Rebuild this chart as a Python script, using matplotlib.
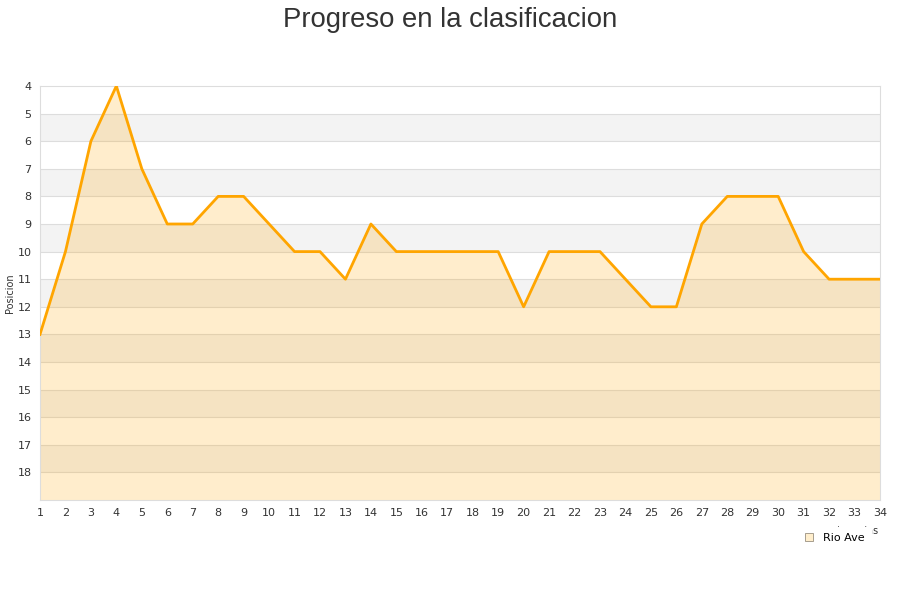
import matplotlib
matplotlib.use("Agg")
import matplotlib.pyplot as plt
from matplotlib.lines import Line2D

jornadas = list(range(1, 35))
posicion = [13, 10, 6, 4, 7, 9, 9, 8, 8, 9, 10, 10, 11, 9, 10, 10, 10, 10, 10, 12,
            10, 10, 10, 11, 12, 12, 9, 8, 8, 8, 10, 11, 11, 11]
equipo = "Rio Ave"

fig = plt.figure(figsize=(9, 6), dpi=100)
ax = fig.add_axes([40 / 900, 1 - 500 / 600, 840 / 900, 414 / 600])

# franjas alternas
for y in range(5, 19, 2):
    ax.axhspan(y, y + 1, color="#f3f3f3", zorder=0, lw=0)
for y in range(5, 19):
    ax.axhline(y, color="#dddddd", lw=0.8, zorder=1)

ax.fill_between(jornadas, posicion, 19, color="#ffa500", alpha=0.2, lw=0, zorder=2)
ax.plot(jornadas, posicion, color="#ffa500", lw=2, zorder=3)

ax.set_xlim(1, 34)
ax.set_ylim(19, 4)
ax.set_xticks(jornadas)
ax.set_yticks(range(4, 19))
ax.tick_params(axis="both", length=0, labelsize=8, colors="#333333", pad=6)
ax.tick_params(axis="y", pad=6)
for s in ax.spines.values():
    s.set_color("#dddddd")
    s.set_linewidth(0.8)

ax.set_ylabel("Posicion", fontsize=7, color="#333333")
ax.yaxis.set_label_coords(-0.0298, 0.5)
# la leyenda tapa casi toda la etiqueta, como en el original
ax.set_xlabel("Jornadas", fontsize=7, color="#333333", ha="right", va="center")
ax.xaxis.set_label_coords(0.9988, -0.075)

fig.text(0.5, 0.988, "Progreso en la clasificacion", ha="center", va="top",
         fontsize=19.8, family="Liberation Sans", color="#333333")

handle = Line2D([], [], marker="s", ls="none", markersize=6,
                markerfacecolor="#ffeecc", markeredgecolor="#999080", markeredgewidth=0.6)
leg = ax.legend([handle], [equipo], loc="upper right", bbox_to_anchor=(0.9893, -0.0652),
                frameon=True, fontsize=8, handletextpad=0.3, borderpad=0.55,
                borderaxespad=0, framealpha=1)
leg.get_frame().set_edgecolor("white")
leg.get_frame().set_facecolor("white")
leg.set_zorder(10)

fig.savefig("out.png", dpi=100)
